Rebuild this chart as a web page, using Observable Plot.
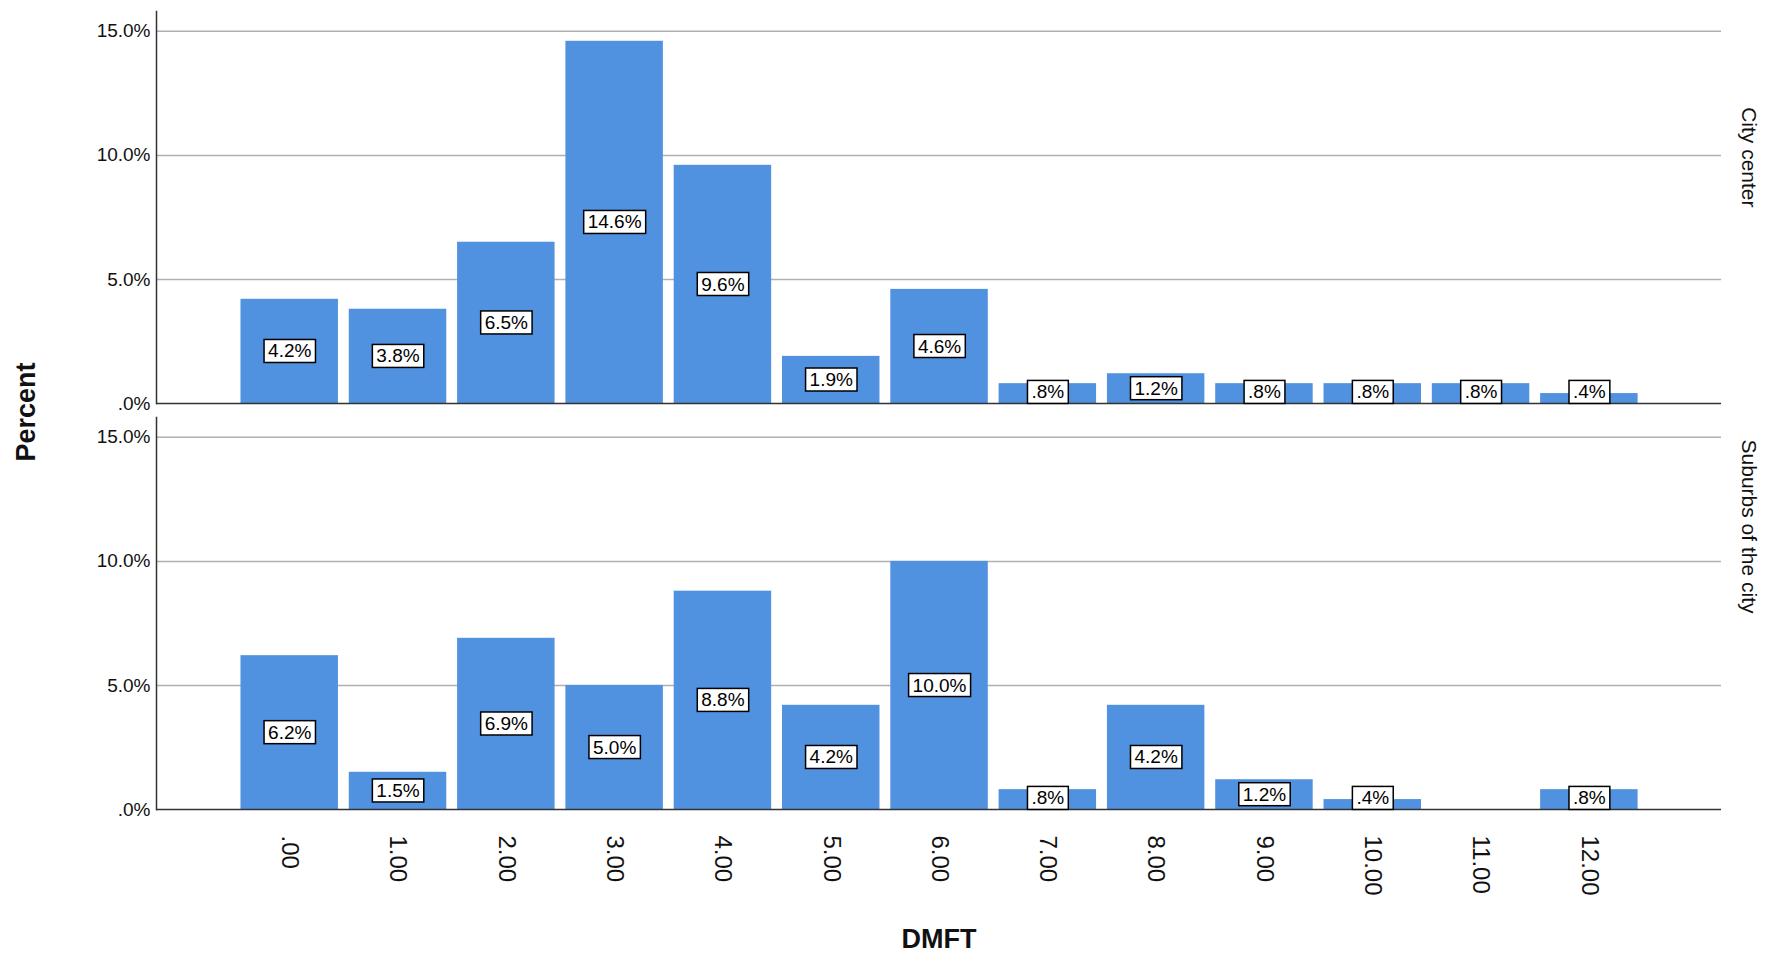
<!DOCTYPE html>
<html><head><meta charset="utf-8">
<script src="https://cdn.jsdelivr.net/npm/d3@7"></script>
<script src="https://cdn.jsdelivr.net/npm/@observablehq/plot@0.6"></script>
<style>body{margin:0;background:#fff;font-family:"Liberation Sans",Arial,sans-serif}</style>
</head><body><div id="chart"></div>
<script>
const dmft = [0,1,2,3,4,5,6,7,8,9,10,11,12];
const groups = ["City center","Suburbs of the city"];
const cityCenter = [4.2,3.8,6.5,14.6,9.6,1.9,4.6,0.8,1.2,0.8,0.8,0.8,0.4];
const suburbs = [6.2,1.5,6.9,5.0,8.8,4.2,10.0,0.8,4.2,1.2,0.4,0,0.8];
const yTicks = [0,5,10,15];

const data = [];
dmft.forEach((d,i)=>{
  data.push({dmft:d, group:groups[0], v:cityCenter[i]});
  data.push({dmft:d, group:groups[1], v:suburbs[i]});
});
const fmt = v => v < 1 ? "." + Math.round(v*10) + "%" : v.toFixed(1) + "%";
const labeled = data.filter(d => d.v > 0);

const chart = Plot.plot({
  width: 1772, height: 961,
  marginTop: 11, marginBottom: 152, marginLeft: 156, marginRight: 51,
  style: {fontFamily: "Liberation Sans, Arial, sans-serif", background: "#fff"},
  x: {domain: [-1.23, 13.22], axis: null},
  y: {domain: [0, 15.8], axis: null},
  fy: {domain: groups, paddingInner: 0.035, paddingOuter: 0, axis: null},
  marks: [
    Plot.gridY([5,10,15], {stroke: "#b0b0b0", strokeOpacity: 1, strokeWidth: 1.5}),
    Plot.rectY(data, {x1: d => d.dmft - 0.45, x2: d => d.dmft + 0.45, y: "v", fy: "group", fill: "#5092e0"}),
    Plot.ruleY([0], {stroke: "#333", strokeWidth: 1.5}),
    Plot.frame({anchor: "left", stroke: "#333", strokeWidth: 1.5}),
    Plot.axisY(yTicks, {tickFormat: d => d === 0 ? ".0%" : d.toFixed(1) + "%", tickSize: 0, tickPadding: 6, fontSize: 19, fill: "#111", label: null}),
    Plot.axisX(dmft, {tickFormat: d => d === 0 ? ".00" : d.toFixed(2), tickRotate: 90, tickSize: 0, tickPadding: 26, fontSize: 24, fill: "#111", label: null}),
    Plot.text(labeled, {x: "dmft", y: d => Math.max(d.v/2, 0.45), fy: "group", text: d => fmt(d.v), fontSize: 19, fill: "#000", className: "vlab"}),
    Plot.text(groups, {fy: d => d, text: d => d, frameAnchor: "right", rotate: 90, dx: 27, fontSize: 21, fill: "#111"})
  ]
});
document.getElementById("chart").appendChild(chart);

const svg = d3.select(chart);
svg.selectAll("g.vlab text").each(function(){
  const b = this.getBBox();
  d3.select(this.parentNode).insert("rect", () => this)
    .attr("x", b.x - 4).attr("y", b.y - 1).attr("width", b.width + 8).attr("height", b.height + 2)
    .attr("transform", this.getAttribute("transform"))
    .attr("fill", "#fff").attr("stroke", "#000").attr("stroke-width", 1.5);
});
svg.append("text").attr("x", 28).attr("y", 412).attr("transform", "rotate(-90,28,412)")
  .attr("text-anchor", "middle").attr("dominant-baseline", "middle")
  .attr("font-size", 27).attr("font-weight", "bold").attr("fill", "#111").text("Percent");
svg.append("text").attr("x", 939).attr("y", 948)
  .attr("text-anchor", "middle").attr("font-size", 27).attr("font-weight", "bold").attr("fill", "#111").text("DMFT");
</script></body></html>
